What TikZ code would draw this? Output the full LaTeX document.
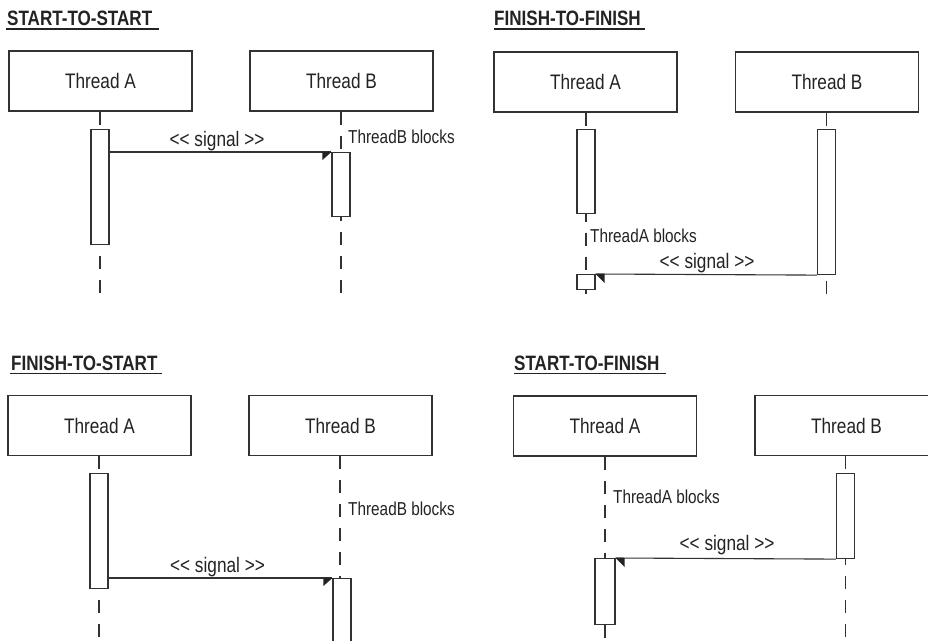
\documentclass[tikz,border=0pt]{standalone}
\usepackage{fontspec}
\newfontfamily\cond[FakeStretch=0.82]{Liberation Sans}
\usetikzlibrary{calc}
\definecolor{ink}{RGB}{35,35,35}
\definecolor{edge}{RGB}{50,50,50}
\tikzset{
  thread/.style={draw=edge, line width=1.3pt, minimum width=183pt, minimum height=60pt, inner sep=0pt,
    text=ink, font=\cond\fontsize{21}{21}\selectfont},
  act/.style={draw=edge, fill=white, line width=1.1pt, inner sep=0pt, anchor=north},
  life/.style={draw=edge, line width=1.1pt, dash pattern=on 13pt off 11pt},
  sig/.style={draw=edge, line width=1.1pt},
  siglabel/.style={inner sep=0pt, anchor=base, text=ink, font=\cond\fontsize{21}{21}\selectfont},
  blocklabel/.style={inner sep=0pt, anchor=base west, text=ink, font=\cond\fontsize{18.7}{18.7}\selectfont},
  titlelabel/.style={inner sep=0pt, anchor=base west, text=ink, font=\cond\bfseries\fontsize{20.8}{20.8}\selectfont},
  uline/.style={draw=ink, line width=1.1pt},
  head/.style={fill=ink}
}
\begin{document}
\begin{tikzpicture}[x=1pt,y=-1pt]
\clip (0,0) rectangle (928,640);
\fill[white] (0,0) rectangle (928,640);

% ===== START-TO-START =====
\node[titlelabel] (t1) at (7,25) {START-TO-START};
\draw[uline] (6,29) -- (159,29);
\node[thread] (a1) at (100.5,81) {Thread A};
\node[thread] (b1) at (341.5,81) {Thread B};
\coordinate (a1end) at (100,296);
\coordinate (b1end) at (341,296);
\draw[life] (a1.south -| a1end) -- (a1end);
\draw[life] (b1.south -| b1end) -- (b1end);
\node[act, minimum width=18pt, minimum height=115pt] (a1act) at (100,129) {};
\node[act, minimum width=18pt, minimum height=64pt] (b1act) at (341,152) {};
\draw[sig] (a1act.east |- b1act.north) -- (b1act.north west);
\fill[head] (b1act.north west) -- ++(-9,0) -- ++(0,8) -- cycle;
\node[siglabel] (s1) at (217,146) {<< signal >>};
\node[blocklabel] (k1) at (348,143) {ThreadB blocks};

% ===== FINISH-TO-FINISH =====
\node[titlelabel] (t2) at (494,25) {FINISH-TO-FINISH};
\draw[uline] (494,29) -- (645,29);
\node[thread] (a2) at (585.5,82) {Thread A};
\node[thread] (b2) at (827,82) {Thread B};
\coordinate (a2end) at (586,296);
\coordinate (b2end) at (826.5,296);
\draw[life] (a2.south -| a2end) -- (a2end);
\draw[life] (b2.south -| b2end) -- (b2end);
\node[act, minimum width=18pt, minimum height=84pt] (a2act) at (586,129) {};
\node[act, minimum width=18pt, minimum height=15pt] (a2end2) at (586,274) {};
\node[act, minimum width=18pt, minimum height=145pt] (b2act) at (826.5,129) {};
\draw[sig] (b2act.south west) -- (a2end2.north east);
\fill[head] (a2end2.north east) -- ++(9,0) -- ++(0,9) -- cycle;
\node[siglabel] (s2) at (707,268) {<< signal >>};
\node[blocklabel] (k2) at (590,242) {ThreadA blocks};

% ===== FINISH-TO-START =====
\node[titlelabel] (t3) at (11,370) {FINISH-TO-START};
\draw[uline] (10,373.5) -- (162,373.5);
\node[thread] (a3) at (99.5,425.5) {Thread A};
\node[thread] (b3) at (340.5,425.5) {Thread B};
\coordinate (a3end) at (99,645);
\coordinate (b3end) at (340,645);
\draw[life] (a3.south -| a3end) -- (a3end);
\draw[life] (b3.south -| b3end) -- (b3end);
\node[act, minimum width=18pt, minimum height=115pt] (a3act) at (99,473) {};
\node[act, minimum width=18pt, minimum height=80pt] (b3act) at (342,578) {};
\draw[sig] (a3act.east |- b3act.north) -- (b3act.north west);
\fill[head] (b3act.north west) -- ++(-9,0) -- ++(0,8) -- cycle;
\node[siglabel] (s3) at (217.5,572) {<< signal >>};
\node[blocklabel] (k3) at (348,515) {ThreadB blocks};

% ===== START-TO-FINISH =====
\node[titlelabel] (t4) at (514,370) {START-TO-FINISH};
\draw[uline] (514,373.5) -- (666,373.5);
\node[thread] (a4) at (605,426) {Thread A};
\node[thread] (b4) at (846.5,425.5) {Thread B};
\coordinate (a4end) at (605,645);
\coordinate (b4end) at (845.5,645);
\draw[life] (a4.south -| a4end) -- (a4end);
\draw[life] (b4.south -| b4end) -- (b4end);
\node[act, minimum width=20pt, minimum height=66pt] (a4act) at (605,558) {};
\node[act, minimum width=18pt, minimum height=85pt] (b4act) at (845.5,473) {};
\draw[sig] (b4act.south west) -- (a4act.north east);
\fill[head] (a4act.north east) -- ++(9,0) -- ++(0,9) -- cycle;
\node[siglabel] (s4) at (727,550) {<< signal >>};
\node[blocklabel] (k4) at (613,503) {ThreadA blocks};
\end{tikzpicture}
\end{document}
